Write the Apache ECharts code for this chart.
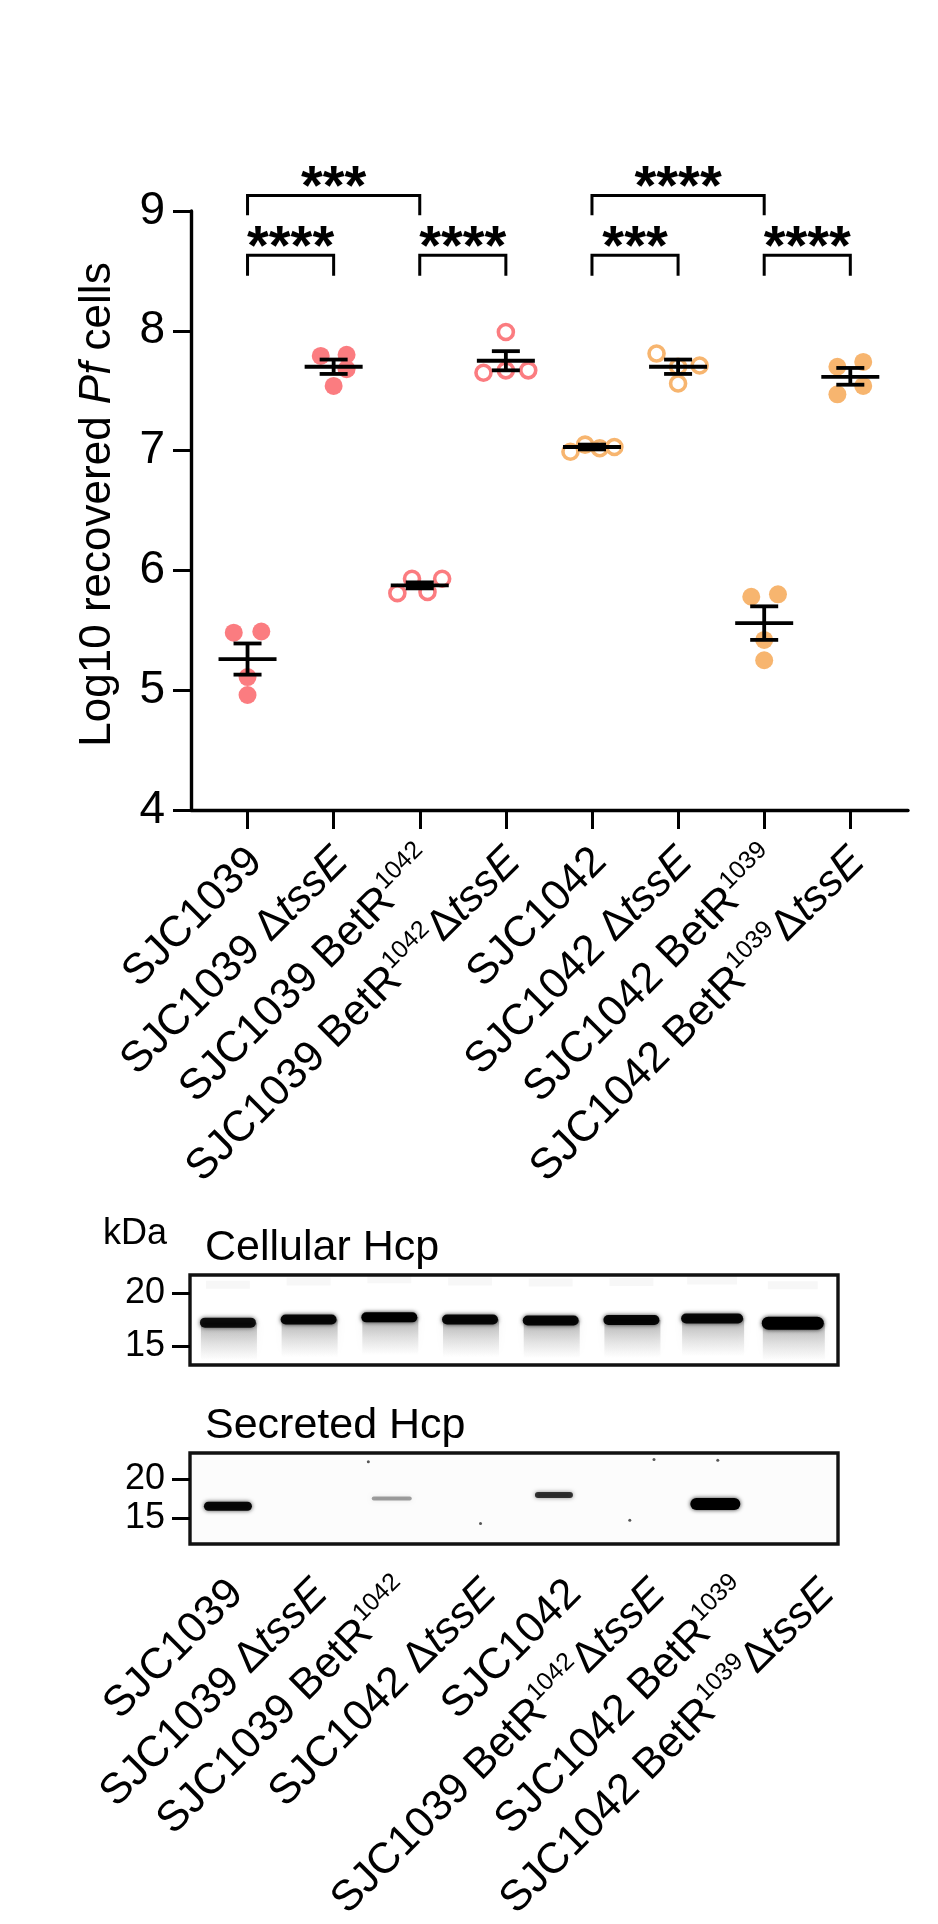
<!DOCTYPE html>
<html>
<head>
<meta charset="utf-8">
<style>
  html, body { margin: 0; padding: 0; background: #fff; }
  #main { width: 938px; height: 1924px; }
</style>
<script src="https://cdn.jsdelivr.net/npm/echarts@6/dist/echarts.min.js"></script>
</head>
<body>
<div id="main"></div>
<script>
// top plot: strain labels
var chartLabels = [
  '{n|SJC1039}',
  '{n|SJC1039 }{d|Δ}{i|tssE}',
  '{n|SJC1039 BetR}{s|1042}',
  '{n|SJC1039 BetR}{s|1042}{d|Δ}{i|tssE}',
  '{n|SJC1042}',
  '{n|SJC1042 }{d|Δ}{i|tssE}',
  '{n|SJC1042 BetR}{s|1039}',
  '{n|SJC1042 BetR}{s|1039}{d|Δ}{i|tssE}'
];
// blot labels, the order differs from the plot
var blotLabels = [
  '{n|SJC1039}',
  '{n|SJC1039 }{d|Δ}{i|tssE}',
  '{n|SJC1039 BetR}{s|1042}',
  '{n|SJC1042 }{d|Δ}{i|tssE}',
  '{n|SJC1042}',
  '{n|SJC1039 BetR}{s|1042}{d|Δ}{i|tssE}',
  '{n|SJC1042 BetR}{s|1039}',
  '{n|SJC1042 BetR}{s|1039}{d|Δ}{i|tssE}'
];

// log10 recovered cells, one list per strain
var sjc1039 = [5.48, 5.49, 5.11, 4.96];
var sjc1039Tss = [7.79, 7.80, 7.68, 7.54];
var sjc1039Bet = [5.93, 5.93, 5.81, 5.82];
var sjc1039BetTss = [7.99, 7.65, 7.67, 7.67];
var sjc1042 = [6.99, 7.05, 7.02, 7.03];
var sjc1042Tss = [7.81, 7.70, 7.71, 7.56];
var sjc1042Bet = [5.78, 5.80, 5.42, 5.25];
var sjc1042BetTss = [7.70, 7.74, 7.54, 7.47];
var allValues = [sjc1039, sjc1039Tss, sjc1039Bet, sjc1039BetTss, sjc1042, sjc1042Tss, sjc1042Bet, sjc1042BetTss];

var means = [5.26, 7.70, 5.875, 7.75, 7.03, 7.70, 5.56, 7.615];
var errLow = [5.13, 7.64, 5.85, 7.67, 7.01, 7.64, 5.42, 7.55];
var errHigh = [5.39, 7.76, 5.90, 7.83, 7.05, 7.76, 5.70, 7.69];

// horizontal spread of the dots inside a strain
var spread = [
  [-0.16, 0.16, 0, 0],
  [-0.15, 0.15, 0.15, 0],
  [-0.09, 0.26, -0.26, 0.09],
  [0, -0.26, 0, 0.26],
  [-0.25, -0.08, 0.09, 0.26],
  [-0.25, 0, 0.25, 0],
  [-0.15, 0.16, 0, 0],
  [-0.15, 0.15, 0.15, -0.15]
];

// brackets: from strain, to strain, top of bracket, end of legs, stars
var brackets = [
  [0, 2, 9.13, 8.965, '***'],
  [4, 6, 9.13, 8.965, '****'],
  [0, 1, 8.63, 8.46, '****'],
  [2, 3, 8.63, 8.46, '****'],
  [4, 5, 8.63, 8.46, '***'],
  [6, 7, 8.63, 8.46, '****']
];

// blots: band position in kDa and how dark it is, per lane
var cellularKda = [17.2, 17.5, 17.7, 17.5, 17.4, 17.45, 17.6, 17.15];
var cellularDark = [0.9, 0.95, 1, 0.95, 0.95, 0.95, 0.95, 1];
var secretedLanes = [0, 2.03, 4.04, 6.04];
var secretedKda = [16.5, 17.5, 17.95, 16.8];
var secretedDark = [0.95, 0.35, 0.75, 1];
var speckLanes = [3.13, 4.98, 6.07, 5.28, 1.74];
var speckKda = [14.3, 14.7, 22.4, 22.5, 22.2];
var kdaTicks = [15, 20];

var red = '#fb7c80';
var orange = '#f7b56f';
var groupColor = [red, red, red, red, orange, orange, orange, orange];
var groupOpen = [false, false, true, true, true, true, false, false];
var font = '"Liberation Sans", Arial, sans-serif';
var labelSize = 43;

var labelRich = {
  n: { fontFamily: font, fontSize: labelSize, color: '#000', lineHeight: 50 },
  i: { fontFamily: font, fontSize: labelSize, fontStyle: 'italic', color: '#000', lineHeight: 50 },
  d: { fontFamily: font, fontSize: labelSize, color: '#000', lineHeight: 50 },
  s: { fontFamily: font, fontSize: 25, color: '#000', lineHeight: 50, verticalAlign: 'top' }
};

var laneValues = [0, 1, 2, 3, 4, 5, 6, 7];

function renderStats(params, api) {
  var i = api.value(0);
  var mid = api.coord([i, api.value(1)]);
  var low = api.coord([i, api.value(2)]);
  var high = api.coord([i, api.value(3)]);
  var lineStyle = { stroke: '#000', lineWidth: 3.8, fill: null };
  function seg(x1, y1, x2, y2) {
    return { type: 'line', shape: { x1: x1, y1: y1, x2: x2, y2: y2 }, style: lineStyle };
  }
  return {
    type: 'group',
    children: [
      seg(mid[0] - 29, mid[1], mid[0] + 29, mid[1]),
      seg(mid[0], low[1], mid[0], high[1]),
      seg(mid[0] - 14, low[1], mid[0] + 14, low[1]),
      seg(mid[0] - 14, high[1], mid[0] + 14, high[1])
    ]
  };
}

function renderBracket(params, api) {
  var left = api.coord([api.value(0), api.value(2)]);
  var right = api.coord([api.value(1), api.value(2)]);
  var footY = api.coord([api.value(0), api.value(3)])[1];
  var stars = brackets[params.dataIndex][4];
  return {
    type: 'group',
    children: [
      {
        type: 'polyline',
        shape: { points: [[left[0], footY], left, right, [right[0], footY]] },
        style: { stroke: '#000', lineWidth: 3, fill: null }
      },
      {
        type: 'text',
        style: {
          x: (left[0] + right[0]) / 2,
          y: left[1] - 7,
          text: stars,
          fontFamily: font,
          fontSize: 56,
          fontWeight: 'bold',
          fill: '#000',
          align: 'center',
          verticalAlign: 'middle'
        }
      }
    ]
  };
}

// one blot band with its soft edge, cellular lanes also get a smear below
function renderBand(params, api) {
  var p = api.coord([api.value(0), api.value(1)]);
  var dark = api.value(2);
  var w = api.value(3);
  var h = api.value(4);
  var smear = api.value(5);
  var children = [];
  if (smear > 0) {
    children.push({
      type: 'rect',
      shape: { x: p[0] - w / 2 + 1, y: p[1], width: w, height: smear },
      style: {
        fill: new echarts.graphic.LinearGradient(0, 0, 0, 1, [
          { offset: 0, color: 'rgba(60,60,60,0.36)' },
          { offset: 0.55, color: 'rgba(90,90,90,0.15)' },
          { offset: 1, color: 'rgba(120,120,120,0)' }
        ]),
        shadowBlur: 8,
        shadowColor: 'rgba(120,120,120,0.3)'
      }
    });
    children.push({
      type: 'rect',
      shape: { x: p[0] - w / 2 + 6, y: p[1] - 42, width: w - 12, height: 8 },
      style: { fill: 'rgba(0,0,0,0.03)', shadowBlur: 6, shadowColor: 'rgba(0,0,0,0.05)' }
    });
  }
  children.push({
    type: 'rect',
    shape: { x: p[0] - w / 2, y: p[1] - h / 2, width: w, height: h, r: h / 2 },
    style: { fill: 'rgba(0,0,0,' + dark + ')', shadowBlur: 4, shadowColor: 'rgba(0,0,0,' + dark * 0.8 + ')' }
  });
  return { type: 'group', children: children };
}

var series = [];
allValues.forEach(function (values, g) {
  series.push({
    type: 'scatter',
    xAxisIndex: 0,
    yAxisIndex: 0,
    symbol: 'circle',
    symbolSize: groupOpen[g] ? 15 : 18,
    itemStyle: groupOpen[g]
      ? { color: '#fff', borderColor: groupColor[g], borderWidth: 3.6, opacity: 1 }
      : { color: groupColor[g], opacity: 1 },
    data: values.map(function (v, k) { return [g + spread[g][k], v]; })
  });
});
series.push({
  type: 'custom',
  xAxisIndex: 0,
  yAxisIndex: 0,
  z: 5,
  renderItem: renderStats,
  data: means.map(function (m, i) { return [i, m, errLow[i], errHigh[i]]; })
});
series.push({
  type: 'custom',
  xAxisIndex: 0,
  yAxisIndex: 0,
  clip: false,
  renderItem: renderBracket,
  data: brackets.map(function (b) { return [b[0], b[1], b[2], b[3]]; })
});
series.push({
  type: 'custom',
  xAxisIndex: 1,
  yAxisIndex: 1,
  renderItem: renderBand,
  data: cellularKda.map(function (k, i) { return [i, k, cellularDark[i], i > 5 ? 62 : 56, i == 7 ? 13 : 10, 38]; })
});
series.push({
  type: 'custom',
  xAxisIndex: 2,
  yAxisIndex: 2,
  renderItem: renderBand,
  data: secretedKda.map(function (k, i) {
    return [secretedLanes[i], k, secretedDark[i], [48, 40, 38, 50][i], [9, 4, 6, 12][i], 0];
  })
});
series.push({
  type: 'scatter',
  xAxisIndex: 2,
  yAxisIndex: 2,
  symbolSize: 3,
  itemStyle: { color: '#555', opacity: 1 },
  data: speckKda.map(function (k, i) { return [speckLanes[i], k]; })
});

function blotYAxis(grid, min, max) {
  return {
    type: 'value',
    gridIndex: grid,
    min: min,
    max: max,
    axisLine: { show: false, onZero: false },
    splitLine: { show: false },
    axisTick: { show: true, customValues: kdaTicks, length: 18, lineStyle: { color: '#000', width: 3 } },
    axisLabel: { customValues: kdaTicks, fontFamily: font, fontSize: 36, color: '#000', margin: 25 }
  };
}

function hiddenLaneAxis(grid) {
  return { type: 'value', gridIndex: grid, show: false, min: -0.47, max: 7.56 };
}

// label row that sits on its own axis, so it can be shifted off the ticks
function labelAxis(grid, min, max, margin, labels) {
  return {
    type: 'value',
    gridIndex: grid,
    position: 'bottom',
    min: min,
    max: max,
    splitLine: { show: false },
    axisLine: { show: false, onZero: false },
    axisTick: { show: false },
    axisLabel: {
      customValues: laneValues,
      rotate: 45,
      margin: margin,
      formatter: function (v) { return labels[v]; },
      rich: labelRich
    }
  };
}

var option = {
  animation: false,
  backgroundColor: '#fff',
  title: [
    { text: 'kDa', left: 98, top: 1211, textStyle: { fontFamily: font, fontSize: 36, fontWeight: 'normal', color: '#000' } },
    { text: 'Cellular Hcp', left: 200, top: 1222, textStyle: { fontFamily: font, fontSize: 43, fontWeight: 'normal', color: '#000' } },
    { text: 'Secreted Hcp', left: 200, top: 1400, textStyle: { fontFamily: font, fontSize: 43, fontWeight: 'normal', color: '#000' } }
  ],
  grid: [
    { left: 191, right: 30, top: 211, height: 599, outerBoundsMode: 'none' },
    { left: 190, right: 100, top: 1275, height: 90, outerBoundsMode: 'none', show: true, borderColor: '#111', borderWidth: 3.4, backgroundColor: '#fff' },
    { left: 190, right: 100, top: 1453, height: 91, outerBoundsMode: 'none', show: true, borderColor: '#111', borderWidth: 3.4, backgroundColor: '#fcfcfc' }
  ],
  xAxis: [
    {
      type: 'value',
      gridIndex: 0,
      position: 'bottom',
      min: -0.6565,
      max: 7.67,
      splitLine: { show: false },
      axisLine: { onZero: false, lineStyle: { color: '#000', width: 3.4 } },
      axisTick: { customValues: laneValues, length: 19, lineStyle: { color: '#000', width: 3 } },
      axisLabel: { show: false }
    },
    hiddenLaneAxis(1),
    hiddenLaneAxis(2),
    labelAxis(2, -0.55, 7.12, 43, blotLabels),
    labelAxis(0, -0.75, 7.58, 45, chartLabels)
  ],
  yAxis: [
    {
      type: 'value',
      gridIndex: 0,
      min: 4,
      max: 9,
      interval: 1,
      splitLine: { show: false },
      axisLine: { show: true, onZero: false, lineStyle: { color: '#000', width: 3.4 } },
      axisTick: { show: true, length: 18, lineStyle: { color: '#000', width: 3 } },
      axisLabel: { fontFamily: font, fontSize: 46, color: '#000', margin: 26 },
      name: '{n|Log10 recovered }{i|Pf}{n| cells}',
      nameLocation: 'middle',
      nameRotate: 90,
      nameGap: 71,
      nameTextStyle: {
        padding: [0, 0, 0, 12],
        rich: {
          n: { fontFamily: font, fontSize: 44, color: '#000' },
          i: { fontFamily: font, fontSize: 44, fontStyle: 'italic', color: '#000' }
        }
      }
    },
    blotYAxis(1, 13.2, 21.7),
    blotYAxis(2, 11.67, 23.33)
  ],
  series: series
};

var myChart = echarts.init(document.getElementById('main'), null, { renderer: 'canvas' });
myChart.setOption(option);
</script>
</body>
</html>
